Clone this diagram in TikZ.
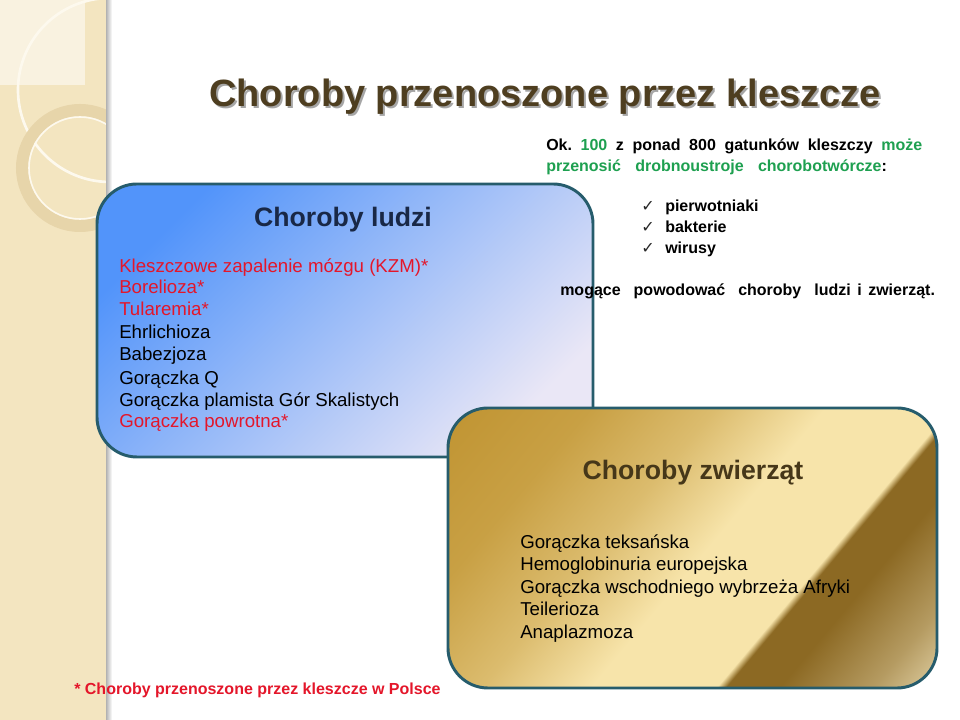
\documentclass[tikz,border=0pt]{standalone}
\usepackage{fontspec}
\setmainfont{Liberation Sans}
\newfontfamily\ticksym{DejaVu Sans}
\usetikzlibrary{positioning}
\frenchspacing
\definecolor{stripBeige}{RGB}{243,229,192}
\definecolor{stripLight}{RGB}{249,242,224}
\definecolor{ringTan}{RGB}{231,213,170}
\definecolor{ringLine}{RGB}{253,249,238}
\definecolor{titleBrown}{RGB}{78,62,32}
\definecolor{boxBorder}{RGB}{38,92,108}
\definecolor{blueTop}{RGB}{82,148,250}
\definecolor{blueEnd}{RGB}{234,231,246}
\definecolor{humanNavy}{RGB}{25,40,70}
\definecolor{animalBrown}{RGB}{70,55,25}
\definecolor{kleszRed}{RGB}{228,22,42}
\definecolor{kleszGreen}{RGB}{30,160,80}
\definecolor{goldDark}{RGB}{192,148,50}
\definecolor{goldLight}{RGB}{247,228,170}
\definecolor{goldDeep}{RGB}{140,105,35}
\definecolor{goldPale}{RGB}{222,205,160}
\pgfdeclarehorizontalshading{kleszGold}{100bp}{color(0bp)=(goldDark); color(27bp)=(goldDark);
  color(36bp)=(goldDark!85!goldLight); color(44bp)=(goldDark!50!goldLight); color(51bp)=(goldLight);
  color(59bp)=(goldLight); color(59.6bp)=(goldDeep); color(63bp)=(goldDeep);
  color(69bp)=(goldDeep!50!goldPale); color(73bp)=(goldPale); color(100bp)=(goldPale)}
\newcommand{\kred}[1]{\textcolor{kleszRed}{#1}}
\newcommand{\kgreen}[1]{\textcolor{kleszGreen}{#1}}

\begin{document}
\begin{tikzpicture}[x=0.75pt, y=0.75pt,
    humanbox/.style={rectangle, rounded corners=30pt, draw=boxBorder, line width=2.2pt,
                     top color=blueTop, bottom color=blueEnd, shading angle=45,
                     minimum width=372pt, minimum height=204.75pt, inner sep=0pt},
    animalbox/.style={rectangle, rounded corners=30pt, draw=boxBorder, line width=2.2pt,
                      minimum width=366.75pt, minimum height=210pt, inner sep=0pt,
                      path picture={
                        \begin{scope}[transform canvas={rotate around={-40:(path picture bounding box.center)}}]
                          \shade[shading=kleszGold] (path picture bounding box.center) ++(-300,-300) rectangle ++(600,600);
                        \end{scope}}},
    boxtitle/.style={anchor=base, inner sep=0pt, font=\fontsize{20}{24}\selectfont\bfseries},
    entry/.style={anchor=base west, inner sep=0pt, font=\fontsize{14}{16.6}\selectfont},
    note/.style={anchor=base west, inner sep=0pt, font=\fontsize{12}{14}\selectfont\bfseries},
    tick/.style={anchor=base west, inner sep=0pt, font=\ticksym\fontsize{12}{14}\selectfont, text=black!85}
  ]
  \useasboundingbox (0,0) rectangle (960,720);
  \fill[white] (0,0) rectangle (960,720);

  % left strip
  \fill[stripBeige] (0,0) rectangle (106,720);
  \begin{scope}
    \clip (0,0) rectangle (106,720);
    \fill[stripLight] (0,635) rectangle (85,720);
    \draw[ringLine, line width=2pt] (110,630) circle (92);
    \draw[ringTan, line width=9pt] (80,552) circle (58);
    \draw[ringLine, line width=1.2pt] (80,552) circle (51);
  \end{scope}
  \shade[left color=black!30, right color=white] (106,0) rectangle (112,720);

  % title
  \node[anchor=base, inner sep=0pt, font=\fontsize{28.5}{34}\selectfont\bfseries, text=black!35]
    (titleshadow) at (547,611) {Choroby przenoszone przez kleszcze};
  \node[anchor=base, inner sep=0pt, font=\fontsize{28.5}{34}\selectfont\bfseries, text=titleBrown]
    (title) at (545,613) {Choroby przenoszone przez kleszcze};

  % human diseases
  \node[humanbox] (ludzi) at (345,399.5) {};
  \node[boxtitle, text=humanNavy] (ludziTitle) at (343,493.5) {Choroby ludzi};
  \node[entry] (h1) at (119,447.5) {\kred{Kleszczowe zapalenie mózgu (KZM)*}};
  \node[entry] (h2) at (119,426.5) {\kred{Borelioza*}};
  \node[entry] (h3) at (119,404.5) {\kred{Tularemia*}};
  \node[entry] (h4) at (119,381.5) {Ehrlichioza};
  \node[entry] (h5) at (119,359.5) {Babezjoza};
  \node[entry] (h6) at (119,335.5) {Gorączka Q};
  \node[entry] (h7) at (119,313.5) {Gorączka plamista Gór Skalistych};
  \node[entry] (h8) at (119,292.5) {\kred{Gorączka powrotna*}};

  % right notes
  \node[note] (intro1) at (546,569.5) {\makebox[282pt][s]{Ok. \kgreen{100} z ponad 800 gatunków kleszczy \kgreen{może}}};
  \node[note] (intro2) at (546,548.5) {\makebox[255.5pt][s]{\kgreen{przenosić\ \ drobnoustroje\ \ chorobotwórcze}:}};
  \node[tick] (t1) at (641,508.5) {✓};
  \node[tick] (t2) at (641,487.5) {✓};
  \node[tick] (t3) at (641,466.5) {✓};
  \node[note] (pierwotniaki) at (665,508.5) {pierwotniaki};
  \node[note] (bakterie) at (665,487.5) {bakterie};
  \node[note] (wirusy) at (665,466.5) {wirusy};
  \node[note] (outro) at (560,424.5) {\makebox[281pt][s]{mogące\ \ powodować\ \ choroby\ \ ludzi i zwierząt.}};

  % animal diseases
  \node[animalbox] (zwierzat) at (692.5,172) {};
  \node[boxtitle, text=animalBrown] (zwierzatTitle) at (693,240.5) {Choroby zwierząt};
  \node[entry] (a1) at (520,171.5) {Gorączka teksańska};
  \node[entry] (a2) at (520,149.5) {Hemoglobinuria europejska};
  \node[entry] (a3) at (520,126.5) {Gorączka wschodniego wybrzeża Afryki};
  \node[entry] (a4) at (520,104.5) {Teilerioza};
  \node[entry] (a5) at (520,81.5) {Anaplazmoza};

  % footnote
  \node[note, text=kleszRed] (polska) at (74,25.5) {* Choroby przenoszone przez kleszcze w Polsce};
\end{tikzpicture}
\end{document}
